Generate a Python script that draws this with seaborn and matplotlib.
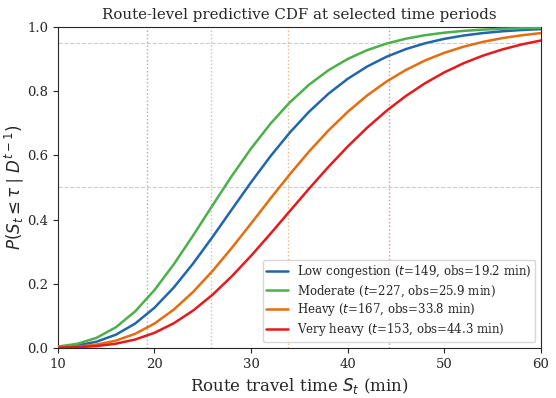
import numpy as np
import pandas as pd
import seaborn as sns
from matplotlib import pyplot as plt

# travel time grid (min) and CDF values estimated from the reference curves
travel_time = [10, 12, 14, 16, 18, 20, 22, 24, 26, 28, 30, 32, 34, 36, 38, 40,
               42, 44, 46, 48, 50, 52, 54, 56, 58, 60]
cdf_low = [0.0022, 0.0074, 0.0191, 0.0409, 0.0757, 0.1250, 0.1882, 0.2629, 0.3453,
           0.4312, 0.5163, 0.5971, 0.6709, 0.7361, 0.7920, 0.8387, 0.8768, 0.9073,
           0.9311, 0.9494, 0.9633, 0.9736, 0.9813, 0.9868, 0.9908, 0.9936]
cdf_moderate = [0.0039, 0.0125, 0.0312, 0.0640, 0.1136, 0.1800, 0.2604, 0.3502,
                0.4437, 0.5356, 0.6216, 0.6986, 0.7650, 0.8204, 0.8653, 0.9006,
                0.9279, 0.9484, 0.9636, 0.9746, 0.9825, 0.9881, 0.9920, 0.9946,
                0.9964, 0.9977]
cdf_heavy = [0.0011, 0.0037, 0.0100, 0.0225, 0.0437, 0.0756, 0.1193, 0.1743, 0.2393,
             0.3114, 0.3878, 0.4653, 0.5408, 0.6121, 0.6775, 0.7358, 0.7866, 0.8299,
             0.8660, 0.8958, 0.9198, 0.9389, 0.9539, 0.9655, 0.9744, 0.9812]
cdf_very_heavy = [0.0005, 0.0020, 0.0055, 0.0129, 0.0260, 0.0468, 0.0766, 0.1162,
                  0.1653, 0.2229, 0.2870, 0.3556, 0.4261, 0.4962, 0.5640, 0.6276,
                  0.6861, 0.7386, 0.7848, 0.8248, 0.8588, 0.8874, 0.9110, 0.9302,
                  0.9458, 0.9582]

regimes = ['Low congestion', 'Moderate', 'Heavy', 'Very heavy']
periods = [149, 227, 167, 153]
observed = [19.2, 25.9, 33.8, 44.3]
colors = ['#2166ac', '#4daf4a', '#e66c0e', '#e41a1c']

curves = [cdf_low, cdf_moderate, cdf_heavy, cdf_very_heavy]
df = pd.concat([
    pd.DataFrame({'time': travel_time, 'cdf': c, 'regime': r})
    for r, c in zip(regimes, curves)
])

sns.set_style('ticks')
plt.rcParams['font.family'] = ['DejaVu Serif']
plt.rcParams['mathtext.fontset'] = 'dejavusans'

fig, ax = plt.subplots(figsize=(5.56, 3.98), dpi=100)
fig.subplots_adjust(left=0.104, right=0.973, top=0.932, bottom=0.126)

for obs, col in zip(observed, colors):
    ax.axvline(obs, color=col, linestyle=':', linewidth=1.0, alpha=0.5, zorder=1)
for lvl in [0.5, 0.95]:
    ax.axhline(lvl, color='gray', linestyle='--', linewidth=0.8, alpha=0.4, zorder=1)

sns.lineplot(data=df, x='time', y='cdf', hue='regime', hue_order=regimes,
             palette=colors, linewidth=1.8, ax=ax, zorder=3)

handles, _ = ax.get_legend_handles_labels()
labels = [f'{r} ($t$={t}, obs={o} min)' for r, t, o in zip(regimes, periods, observed)]
ax.legend(handles, labels, loc='lower right', fontsize=8.5, frameon=True,
          handlelength=1.8, borderpad=0.3, labelspacing=0.25)

ax.set_xlim(10, 60)
ax.set_ylim(0, 1.0)
for s in ax.spines.values():
    s.set_visible(True)
ax.tick_params(labelsize=9.5)
ax.set_xlabel('Route travel time $S_t$ (min)', fontsize=12)
ax.set_ylabel(r'$P(S_t \leq \tau \mid D^{t-1})$', fontsize=12, labelpad=1)
ax.set_title('Route-level predictive CDF at selected time periods', fontsize=10.8)

plt.savefig('out.png', dpi=100)
